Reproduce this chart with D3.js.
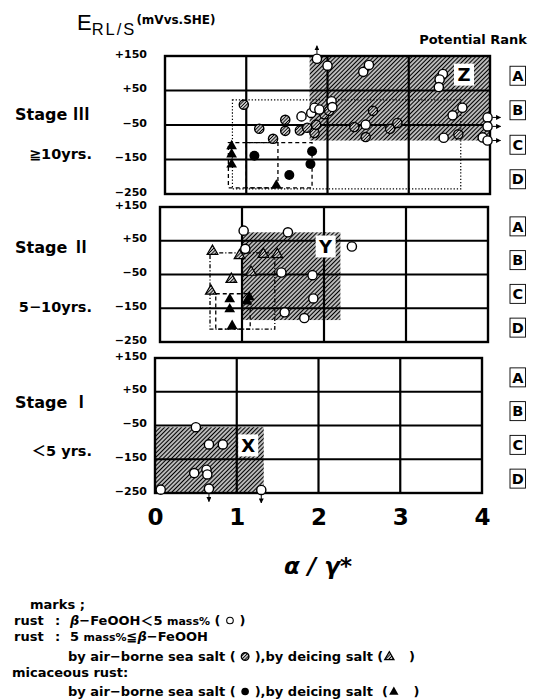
<!DOCTYPE html>
<html><head><meta charset="utf-8">
<script src="https://cdn.jsdelivr.net/npm/d3@7/dist/d3.min.js"></script>
<style>
body{margin:0;background:#fff}
svg{display:block}
text{font-family:"DejaVu Sans","Noto Sans CJK JP",sans-serif;font-weight:bold;fill:#000;white-space:pre}
</style>
</head><body>
<svg id="c" width="539" height="700"></svg>
<script>
// ---------------- DATA ----------------
const xTicks = [0, 1, 2, 3, 4];
const yTicks = [150, 50, -50, -150, -250];
const rankLabels = ['A', 'B', 'C', 'D'];
const stageNames = ['Stage ', 'Stage ', 'Stage '];
const stageNumerals = ['Ⅲ', 'Ⅱ', 'Ⅰ'];
const stageYears = ['≧10yrs.', '5−10yrs.', '＜5 yrs.'];

// [alpha/gamma*, E (mV)], optional third = off-scale direction
const stage3Open = [[1.87,142,'u'],[2.0,122],[2.44,104],[2.51,124],[3.42,98],[3.38,82],[3.37,60],
  [3.66,0],[3.54,-22],[2.47,-49],[3.43,-87],[3.97,-28,'r'],[3.97,-54,'r'],[3.91,-86],[3.97,-95,'r'],
  [1.68,-25],[1.8,-15],[1.84,0],[1.9,-5],[2.05,19],[2.06,2]];
const stage3Hatched = [[0.97,9],[1.16,-61],[1.33,-90],[1.48,-35],[1.48,-67],[1.66,-66],[1.75,-58],
  [1.84,-73],[1.86,-49],[1.96,-19],[2.02,-9],[2.56,-9],[2.33,-56],[2.47,-85],[2.77,-61],[2.86,-44],[3.61,-77]];
const stage3MicaCircle = [[1.1,-139],[1.81,-126],[1.79,-163],[1.53,-195]];
const stage3MicaTri = [[0.82,-111],[0.82,-135],[0.82,-164],[1.37,-225]];

const stage2Open = [[1.02,80],[1.56,75],[1.04,26],[1.48,-44],[1.86,-52],[1.87,-121],[1.52,-162],[1.76,-179],[2.34,33]];
const stage2HatchedTri = [[0.64,19],[0.97,6],[1.26,10],[1.43,9],[1.11,-43],[0.87,-64],[0.62,-99]];
const stage2MicaTri = [[0.85,-123],[0.85,-153],[1.09,-117],[1.06,-130],[0.88,-202]];

const stage1Open = [[0.5,-55],[0.66,-106],[0.83,-106],[0.48,-191],[0.63,-181],[0.64,-195],[0.07,-240],[0.66,-237,'d'],[1.3,-241,'d']];

// shaded zones: x range, y range, label name, label anchor [x, y]
const zoneZ = {name:'Z', x:[1.78,4], y:[-95,150], at:[3.68,96]};
const zoneY = {name:'Y', x:[1.0,2.2], y:[-185,75], at:[2.02,33]};
const zoneX = {name:'X', x:[0,1.33], y:[-250,-55], at:[1.14,-109]};

// range boxes: x range, y range, style
const stage3Ranges = [{x:[0.83,3.64], y:[-235,23], s:'dot'},{x:[0.78,1.39], y:[-232,-101], s:'dash'},{x:[1.0,1.81], y:[-232,-101], s:'dash'}];
const stage2Ranges = [{x:[0.61,1.40], y:[-212,14], s:'dashdot'},{x:[0.68,1.1], y:[-212,-107], s:'dash'}];
const stage1Ranges = [];

// ---------------- LAYOUT ----------------
const panels = [
  {x0:165, x1:490, y0:56, y1:194, nameY:120, yearY:159},
  {x0:160, x1:488, y0:207, y1:342, nameY:253, yearY:312},
  {x0:155, x1:482, y0:358, y1:493, nameY:408, yearY:456}
];
const stageData = [
  {open:stage3Open, hc:stage3Hatched, ht:[], mc:stage3MicaCircle, mt:stage3MicaTri, zone:zoneZ, ranges:stage3Ranges},
  {open:stage2Open, hc:[], ht:stage2HatchedTri, mc:[], mt:stage2MicaTri, zone:zoneY, ranges:stage2Ranges},
  {open:stage1Open, hc:[], ht:[], mc:[], mt:[], zone:zoneX, ranges:stage1Ranges}
];

const svg = d3.select('#c');
const defs = svg.append('defs');
function hatch(id, gap, w){
  const p = defs.append('pattern').attr('id',id).attr('patternUnits','userSpaceOnUse')
    .attr('width',gap).attr('height',gap).attr('patternTransform','rotate(45)');
  p.append('rect').attr('width',gap).attr('height',gap).attr('fill','#fff');
  p.append('line').attr('x1',gap/2).attr('y1',0).attr('x2',gap/2).attr('y2',gap)
    .attr('stroke','#000').attr('stroke-width',w);
}
hatch('hz', 3, 1.55);
hatch('hm', 2.4, 1.15);
defs.append('marker').attr('id','arr').attr('viewBox','0 0 10 10').attr('refX',9).attr('refY',5)
  .attr('markerWidth',5).attr('markerHeight',5).attr('markerUnits','userSpaceOnUse').attr('orient','auto')
  .append('path').attr('d','M0,0L10,5L0,10z').attr('fill','#000');

const tri = d3.symbol(d3.symbolTriangle).size(50);
const triS = d3.symbol(d3.symbolTriangle).size(38);

function drawMarker(g, type, cx, cy, small){
  if(type==='open'){
    g.append('circle').attr('cx',cx).attr('cy',cy).attr('r',small?3.3:4.6).attr('fill','#fff').attr('stroke','#000').attr('stroke-width',small?1.1:1.4);
  } else if(type==='hc'){
    g.append('circle').attr('cx',cx).attr('cy',cy).attr('r',small?3.8:4.6).attr('fill','url(#hm)').attr('stroke','#000').attr('stroke-width',1.4);
  } else if(type==='mc'){
    g.append('circle').attr('cx',cx).attr('cy',cy).attr('r',small?3.8:5).attr('fill','#000');
  } else if(type==='mt'){
    g.append('path').attr('d',(small?triS:tri)()).attr('transform',`translate(${cx},${cy})`).attr('fill','#000');
  } else if(type==='ht'){
    g.append('path').attr('d',(small?triS:tri)()).attr('transform',`translate(${cx},${cy})`).attr('fill','url(#hm)').attr('stroke','#000').attr('stroke-width',1.2);
  }
}

panels.forEach((p, i) => {
  const d = stageData[i];
  const x = d3.scaleLinear().domain([0,4]).range([p.x0,p.x1]);
  const y = d3.scaleLinear().domain([-250,150]).range([p.y1,p.y0]);
  const g = svg.append('g');

  g.append('rect').attr('x',p.x0).attr('y',p.y0).attr('width',p.x1-p.x0).attr('height',p.y1-p.y0).attr('fill','#fff');
  const z = d.zone;
  g.append('rect').attr('x',x(z.x[0])).attr('y',y(z.y[1])).attr('width',x(z.x[1])-x(z.x[0]))
    .attr('height',y(z.y[0])-y(z.y[1])).attr('fill','url(#hz)');
  g.selectAll('.vg').data(xTicks.slice(1,-1)).join('line').attr('x1',v=>x(v)).attr('x2',v=>x(v))
    .attr('y1',p.y0).attr('y2',p.y1).attr('stroke','#000').attr('stroke-width',2.2);
  g.selectAll('.hg').data(yTicks.slice(1,-1)).join('line').attr('y1',v=>y(v)).attr('y2',v=>y(v))
    .attr('x1',p.x0).attr('x2',p.x1).attr('stroke','#000').attr('stroke-width',2.2);
  g.append('rect').attr('x',p.x0).attr('y',p.y0).attr('width',p.x1-p.x0).attr('height',p.y1-p.y0)
    .attr('fill','none').attr('stroke','#000').attr('stroke-width',2.4);
  const ax = d3.axisLeft(y).tickValues(yTicks).tickSize(0).tickPadding(p.x0-147)
    .tickFormat(v => (v>0?'+':'−')+Math.abs(v));
  const ag = g.append('g').attr('transform',`translate(${p.x0},0)`).call(ax);
  ag.select('.domain').remove();
  ag.selectAll('text').attr('font-size',11).attr('font-family','"DejaVu Sans"').attr('font-weight','bold').attr('dy','0.1em');

  const dash = {dot:'1.3,1.9', dash:'4,3', dashdot:'4,2,1.2,2'};
  g.selectAll('.rb').data(d.ranges).join('rect')
    .attr('x',r=>x(r.x[0])).attr('y',r=>y(r.y[1])).attr('width',r=>x(r.x[1])-x(r.x[0]))
    .attr('height',r=>y(r.y[0])-y(r.y[1])).attr('fill','none').attr('stroke','#000')
    .attr('stroke-width',r=>r.s==='dot'?1.2:1.3).attr('stroke-dasharray',r=>dash[r.s]);

  g.append('rect').attr('x',x(z.at[0])-10).attr('y',y(z.at[1])-11).attr('width',20).attr('height',22).attr('fill','#fff');
  g.append('text').attr('x',x(z.at[0])).attr('y',y(z.at[1])+6.5).attr('text-anchor','middle')
    .attr('font-size',18).attr('font-family','"Liberation Sans",Arial,sans-serif').text(z.name);

  const mg = g.append('g');
  d.hc.forEach(pt=>drawMarker(mg,'hc',x(pt[0]),y(pt[1])));
  d.open.forEach(pt=>drawMarker(mg,'open',x(pt[0]),y(pt[1])));
  d.ht.forEach(pt=>drawMarker(mg,'ht',x(pt[0]),y(pt[1])));
  d.mc.forEach(pt=>drawMarker(mg,'mc',x(pt[0]),y(pt[1])));
  d.mt.forEach(pt=>drawMarker(mg,'mt',x(pt[0]),y(pt[1])));
  d.open.filter(pt=>pt[2]).forEach(pt=>{
    const cx=x(pt[0]), cy=y(pt[1]);
    const v = {u:[0,-1], d:[0,1], r:[1,0]}[pt[2]];
    mg.append('line').attr('x1',cx+v[0]*5).attr('y1',cy+v[1]*5).attr('x2',cx+v[0]*13).attr('y2',cy+v[1]*13)
      .attr('stroke','#000').attr('stroke-width',1).attr('marker-end','url(#arr)');
  });

  const rg = g.append('g');
  rankLabels.forEach((r,k)=>{
    const cy = y((yTicks[k]+yTicks[k+1])/2)+2.5;
    rg.append('rect').attr('x',510).attr('y',cy-9.5).attr('width',15.5).attr('height',19)
      .attr('fill','#fff').attr('stroke','#000').attr('stroke-width',0.9);
    rg.append('text').attr('x',517.8).attr('y',cy+5.2).attr('text-anchor','middle')
      .attr('font-size',14.5).attr('font-family','"Liberation Sans",Arial,sans-serif').text(r);
  });

  const st = svg.append('text').attr('x',15).attr('y',p.nameY).attr('font-size',16);
  st.append('tspan').text(stageNames[i]);
  st.append('tspan').attr('font-family','"Noto Sans CJK JP"').attr('font-size',17).text(stageNumerals[i]);
  svg.append('text').attr('x',92).attr('y',p.yearY).attr('text-anchor','end').attr('font-size',14.5).text(stageYears[i]);

  if(i===panels.length-1){
    const xa = d3.axisBottom(x).tickValues(xTicks).tickSize(0).tickPadding(16).tickFormat(d3.format('d'));
    const xg = g.append('g').attr('transform',`translate(0,${p.y1})`).call(xa);
    xg.select('.domain').remove();
    xg.selectAll('text').attr('font-size',23).attr('font-family','"Liberation Sans",Arial,sans-serif').attr('font-weight','bold');
  }
});

const tt = svg.append('text').attr('x',77).attr('y',30);
tt.append('tspan').attr('font-size',22).attr('font-weight','normal').attr('font-family','"Liberation Sans",Arial,sans-serif').text('E');
tt.append('tspan').attr('font-size',16.5).attr('font-weight','normal').attr('font-family','"Liberation Sans",Arial,sans-serif').attr('letter-spacing',2).attr('dy',5).text('RL/S');
tt.append('tspan').attr('font-size',12).attr('dy',-11).text('(mVvs.SHE)');
svg.append('text').attr('x',527).attr('y',44).attr('text-anchor','end').attr('font-size',13).text('Potential Rank');

svg.append('text').attr('x',318).attr('y',574).attr('text-anchor','middle').attr('font-size',23)
  .attr('font-style','italic').attr('font-family','"DejaVu Serif",serif').text('α / γ*');

function legendLine(x0, yb, parts){
  const g = svg.append('g');
  let cx = x0;
  parts.forEach(pp=>{
    if(typeof pp==='string' || pp.t!==undefined){
      const o = typeof pp==='string'?{t:pp}:pp;
      const t = g.append('text').attr('x',cx).attr('y',yb).attr('font-size',o.size||13).text(o.t);
      if(o.italic) t.attr('font-style','italic');
      if(o.fam) t.attr('font-family',o.fam);
      cx += t.node().getComputedTextLength();
    } else {
      drawMarker(g, pp.m, cx+pp.w/2, yb-4.5+(pp.m.endsWith('t')?0.5:0), true);
      cx += pp.w;
    }
  });
}
legendLine(30, 609, ['marks ;']);
legendLine(14, 625, ['rust']); legendLine(55, 625, [':']);
legendLine(70, 625, [{t:'β',italic:true},'−FeOOH',{t:'＜',fam:'"Noto Sans CJK JP"'},'5 ',{t:'mass%',size:11},' ( ',{m:'open',w:10},' )']);
legendLine(14, 641, ['rust']); legendLine(55, 641, [':']);
legendLine(70, 641, ['5 ',{t:'mass%',size:11},{t:'≦',fam:'"Noto Sans CJK JP"'},{t:'β',italic:true},'−FeOOH']);
legendLine(68, 661, ['by air−borne sea salt ( ',{m:'hc',w:10},' ),by deicing salt (',{m:'ht',w:12},'   )']);
legendLine(12, 677, ['micaceous rust:']);
legendLine(68, 696, ['by air−borne sea salt ( ',{m:'mc',w:10},' ),by deicing salt  (',{m:'mt',w:12},'   )']);
</script>
</body></html>
